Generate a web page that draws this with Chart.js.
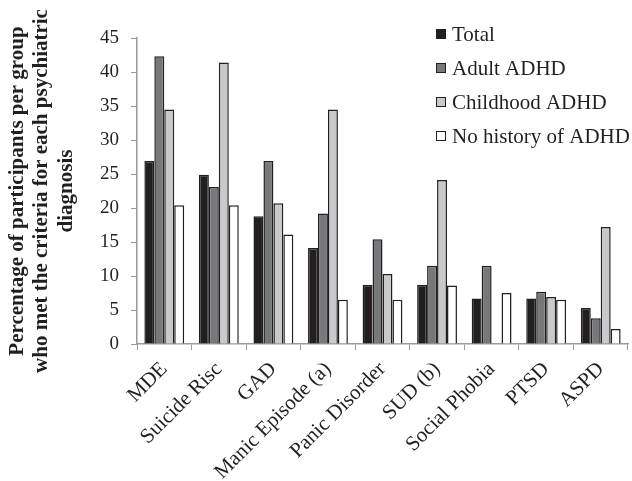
<!DOCTYPE html>
<html>
<head>
<meta charset="utf-8">
<script src="https://cdn.jsdelivr.net/npm/chart.js@4.4.1/dist/chart.umd.min.js"></script>
<style>
  html, body { margin: 0; padding: 0; background: #fff; }
  #wrap { width: 632px; height: 481px; }
</style>
</head>
<body>
<div id="wrap"><canvas id="chart" width="632" height="481"></canvas></div>
<script>
const categories = ["MDE", "Suicide Risc", "GAD", "Manic Episode (a)", "Panic Disorder", "SUD (b)", "Social Phobia", "PTSD", "ASPD"];
const total = [26.9, 24.9, 18.8, 14.1, 8.7, 8.7, 6.7, 6.7, 5.3];
const adultADHD = [42.3, 23.1, 26.9, 19.2, 15.4, 11.5, 11.5, 7.7, 3.8];
const childhoodADHD = [34.5, 41.4, 20.7, 34.5, 10.3, 24.1, 0, 6.9, 17.2];
const noHistory = [20.4, 20.4, 16.1, 6.5, 6.5, 8.6, 7.5, 6.5, 2.2];
const yTitle = ["Percentage of participants per group", "who met the criteria for each psychiatric", "diagnosis"];

const SERIF = "'Liberation Serif', 'DejaVu Serif', serif";
const ink = "#231f20";
const axisGray = "#9a9a9a";

// legend drawn by hand so it can sit over the top-right of the plot
const cornerLegend = {
  id: "cornerLegend",
  afterDraw(chart) {
    const ctx = chart.ctx;
    ctx.save();
    ctx.font = "21px " + SERIF;
    ctx.textBaseline = "middle";
    chart.data.datasets.forEach((ds, i) => {
      const y = 34 + i * 34;
      ctx.fillStyle = ds.backgroundColor;
      ctx.strokeStyle = ink;
      ctx.lineWidth = 1;
      ctx.fillRect(436, y - 5, 10, 10);
      ctx.strokeRect(436.5, y - 4.5, 9, 9);
      ctx.fillStyle = ink;
      ctx.fillText(ds.label, 452, y + 1);
    });
    ctx.restore();
  },
};

const bar = (label, data, color) => ({
  label,
  data,
  backgroundColor: color,
  borderColor: ink,
  borderWidth: 1.5,
  borderSkipped: "bottom",
  categoryPercentage: 0.73,
  barPercentage: 1,
});

new Chart(document.getElementById("chart"), {
  type: "bar",
  data: {
    labels: categories,
    datasets: [
      bar("Total", total, "#231f20"),
      bar("Adult ADHD", adultADHD, "#77787b"),
      bar("Childhood ADHD", childhoodADHD, "#c8c9cb"),
      bar("No history of ADHD", noHistory, "#ffffff"),
    ],
  },
  options: {
    responsive: false,
    animation: false,
    layout: { padding: { left: 0, right: 4, top: 38, bottom: 0 } },
    plugins: { legend: { display: false }, tooltip: { enabled: false } },
    scales: {
      x: {
        grid: { drawOnChartArea: false, color: axisGray, tickLength: 6, offset: true },
        border: { color: axisGray, width: 1.5 },
        ticks: {
          color: ink,
          font: { family: SERIF, size: 21 },
          maxRotation: 45,
          minRotation: 45,
          padding: 7,
        },
        afterFit: (s) => { s.height = 137; },
      },
      y: {
        min: 0,
        max: 45,
        ticks: { stepSize: 5, color: ink, font: { family: SERIF, size: 19 }, padding: 12 },
        grid: { drawOnChartArea: false, color: axisGray, tickLength: 6 },
        border: { color: axisGray, width: 1.5 },
        title: {
          display: true,
          text: yTitle,
          color: ink,
          font: { family: SERIF, size: 21, weight: "bold", lineHeight: 1.17 },
          padding: { top: 5, bottom: 0 },
        },
        afterFit: (s) => { s.width = 137; },
      },
    },
  },
  plugins: [cornerLegend],
});
</script>
</body>
</html>
